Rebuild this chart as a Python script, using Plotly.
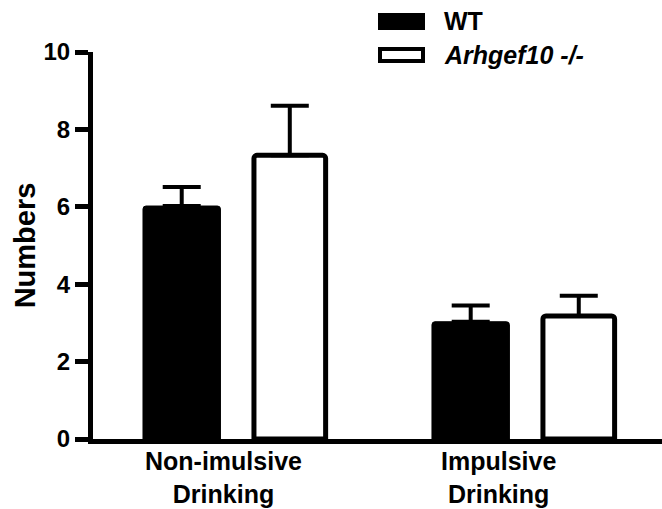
import plotly.graph_objects as go

categories = ["Non-imulsive<br>Drinking", "Impulsive<br>Drinking"]
series_names = ["WT", "<i>Arhgef10 -/-</i>"]
wt_values = [6.02, 3.03]
wt_errors = [0.49, 0.42]
ko_values = [7.33, 3.18]
ko_errors = [1.28, 0.52]
y_ticks = [0, 2, 4, 6, 8, 10]

FONT = "Liberation Sans, Arial, sans-serif"
xpos = list(range(len(categories)))

fig = go.Figure()
fig.add_trace(go.Bar(
    x=xpos, y=wt_values, name=series_names[0],
    offset=-0.32, width=0.268,
    marker=dict(color="black", line=dict(color="black", width=1), cornerradius=3),
    error_y=dict(type="data", array=wt_errors, arrayminus=[0] * len(wt_errors),
                 symmetric=False, color="black", thickness=4, width=19),
))
fig.add_trace(go.Bar(
    x=xpos, y=ko_values, name=series_names[1],
    offset=0.064, width=0.248,
    marker=dict(color="white", line=dict(color="black", width=5), cornerradius=3),
    error_y=dict(type="data", array=ko_errors, arrayminus=[0] * len(ko_errors),
                 symmetric=False, color="black", thickness=4, width=19),
))

# category labels below the axis
label_shift = [-12, -26]
annotations = []
for i, c in enumerate(categories):
    annotations.append(dict(
        x=xpos[i], y=0, xref="x", yref="paper", yanchor="top", xanchor="center",
        yshift=-6, xshift=label_shift[i], text=c, showarrow=False,
        font=dict(family=FONT, size=25, color="black", weight="bold"),
    ))

# legend drawn manually (wide rectangles like the original)
PW, PH = 569.0, 387.0
def px_x(px):
    return (px - 93) / PW
def px_y(py):
    return (439 - py) / PH

shapes = [
    dict(type="rect", xref="paper", yref="paper", x0=px_x(378), x1=px_x(425),
         y0=px_y(30), y1=px_y(13), fillcolor="black", line=dict(color="black", width=0)),
    dict(type="rect", xref="paper", yref="paper", x0=px_x(380), x1=px_x(423),
         y0=px_y(61), y1=px_y(49), fillcolor="white", line=dict(color="black", width=4)),
]
legend_y = [21, 55]
for name, ly in zip(series_names, legend_y):
    annotations.append(dict(
        x=px_x(442), y=px_y(ly), xref="paper", yref="paper", xanchor="left", yanchor="middle",
        text=name, showarrow=False,
        font=dict(family=FONT, size=25, color="black", weight="bold"),
    ))

fig.update_layout(
    width=662, height=509,
    margin=dict(l=93, r=0, t=52, b=70, autoexpand=False),
    paper_bgcolor="white", plot_bgcolor="white",
    barmode="overlay", showlegend=False,
    annotations=annotations, shapes=shapes,
    font=dict(family=FONT, color="black"),
)
fig.update_xaxes(
    range=[-0.493, 1.476], showticklabels=False, ticks="", showgrid=False, zeroline=False,
    showline=True, linecolor="black", linewidth=5, automargin=False,
)
fig.update_yaxes(
    range=[0, 10], tickvals=y_ticks, ticks="outside", ticklen=13, tickwidth=5, tickcolor="black",
    showgrid=False, zeroline=False, showline=True, linecolor="black", linewidth=5,
    automargin=False,
    tickfont=dict(family=FONT, size=24, color="black", weight="bold"),
    title=dict(text="Numbers", standoff=1,
               font=dict(family=FONT, size=29, color="black", weight="bold")),
)
fig.write_html("out.html", config={"displayModeBar": False},
               post_script="document.body.style.margin='0';document.body.style.overflow='hidden';")
